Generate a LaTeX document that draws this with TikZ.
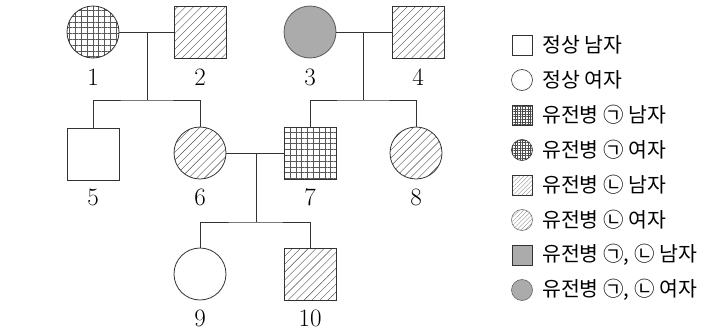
\documentclass[tikz,border=0pt]{standalone}
\usepackage{fontspec}
\newfontfamily\kr{Noto Sans CJK KR}
\usetikzlibrary{patterns.meta}
\begin{document}
\begin{tikzpicture}[x=1pt,y=-1pt,
  person/.style={draw=black!80,line width=0.8pt,minimum size=52pt,inner sep=0pt,outer sep=0pt},
  male/.style={person,rectangle},
  female/.style={person,circle},
  gridfill/.style={pattern={Hatch[angle=0,distance=5.8pt,line width=0.4pt]},pattern color=black!65},
  hatchfill/.style={pattern={Lines[angle=45,distance=5.6pt,line width=0.4pt]},pattern color=black!70},
  bothfill/.style={fill=black!33},
  num/.style={font=\fontsize{25}{25}\selectfont,inner sep=0pt},
  link/.style={draw=black!80,line width=0.8pt},
  lsym/.style={draw=black!80,line width=0.6pt,minimum size=20pt,inner sep=0pt},
  lgrid/.style={pattern={Hatch[angle=0,distance=2.6pt,line width=0.35pt]},pattern color=black!70},
  lhatch/.style={pattern={Lines[angle=45,distance=3pt,line width=0.35pt]},pattern color=black!45},
  ltext/.style={font=\kr\fontsize{20.5}{20.5}\selectfont,anchor=west,inner sep=0pt}]
\useasboundingbox (0,0) rectangle (713,335);
% generation I
\node[female,gridfill] (n1) at (93,32) {};
\node[male,hatchfill] (n2) at (200,32) {};
\node[female,bothfill,draw=black!65] (n3) at (310,32) {};
\node[male,hatchfill] (n4) at (418,32) {};
% generation II
\node[male] (n5) at (93,154) {};
\node[female,hatchfill] (n6) at (200,153) {};
\node[male,gridfill] (n7) at (310,153) {};
\node[female,hatchfill] (n8) at (416,153) {};
% generation III
\node[female] (n9) at (200,274) {};
\node[male,hatchfill] (n10) at (310,274) {};
% numbers
\node[num] (t1) at (93,77) {1};
\node[num] (t2) at (200,77) {2};
\node[num] (t3) at (310,77) {3};
\node[num] (t4) at (418,77) {4};
\node[num] (t5) at (93,197) {5};
\node[num] (t6) at (200,197) {6};
\node[num] (t7) at (310,197) {7};
\node[num] (t8) at (416,197) {8};
\node[num] (t9) at (200,318) {9};
\node[num] (t10) at (310,318) {10};
% connectors
\coordinate (m12) at (147,32);
\coordinate (s12) at (147,100);
\coordinate (m34) at (363,32);
\coordinate (s34) at (363,100);
\coordinate (m67) at (256,153);
\coordinate (s67) at (256,222);
\draw[link] (n1.east) -- (n2.west);
\draw[link] (m12) -- (s12);
\draw[link] (n5.north) |- (s12) -| (n6.north);
\draw[link] (n3.east) -- (n4.west);
\draw[link] (m34) -- (s34);
\draw[link] (n7.north) |- (s34) -| (n8.north);
\draw[link] (n6.east) -- (n7.west);
\draw[link] (m67) -- (s67);
\draw[link] (n9.north) |- (s67) -| (n10.north);
% legend
\node[lsym,rectangle] (k1) at (522,45) {};
\node[ltext] (k1t) at (542,45) {정상 남자};
\node[lsym,circle,minimum size=21pt] (k2) at (522,80) {};
\node[ltext] (k2t) at (542,80) {정상 여자};
\node[lsym,rectangle,lgrid] (k3) at (522,115) {};
\node[ltext] (k3t) at (542,115) {유전병 ㉠ 남자};
\node[lsym,circle,minimum size=21pt,lgrid] (k4) at (522,150) {};
\node[ltext] (k4t) at (542,150) {유전병 ㉠ 여자};
\node[lsym,rectangle,lhatch] (k5) at (522,185) {};
\node[ltext] (k5t) at (542,185) {유전병 ㉡ 남자};
\node[lsym,circle,minimum size=21pt,lhatch,draw=black!55] (k6) at (522,220) {};
\node[ltext] (k6t) at (542,220) {유전병 ㉡ 여자};
\node[lsym,rectangle,bothfill] (k7) at (522,255) {};
\node[ltext] (k7t) at (542,255) {유전병 ㉠, ㉡ 남자};
\node[lsym,circle,minimum size=21pt,bothfill,draw=black!60] (k8) at (522,290) {};
\node[ltext] (k8t) at (542,290) {유전병 ㉠, ㉡ 여자};
\end{tikzpicture}
\end{document}
